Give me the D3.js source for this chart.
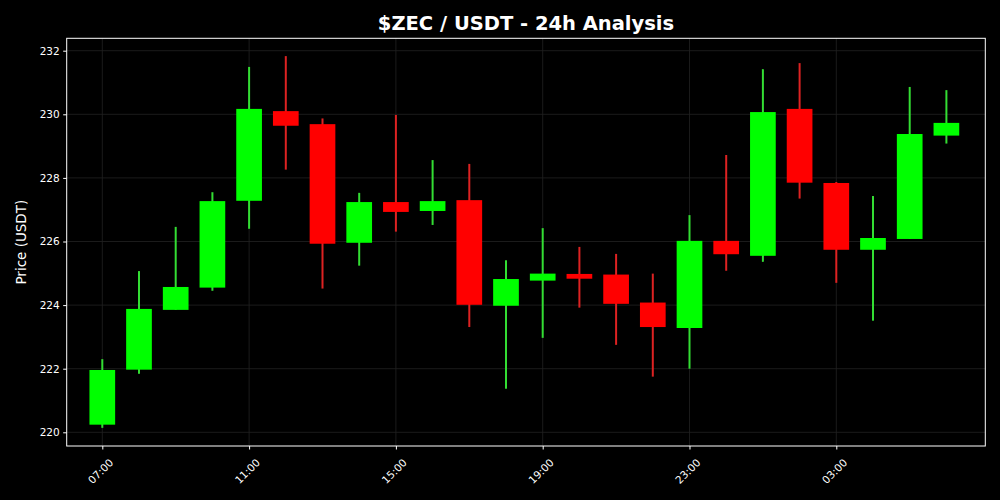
<!DOCTYPE html>
<html>
<head>
<meta charset="utf-8">
<script src="https://cdn.jsdelivr.net/npm/d3@7"></script>
<style>
  html, body { margin: 0; padding: 0; background: #000; }
  svg { display: block; }
</style>
</head>
<body>
<svg id="chart" width="1000" height="500"></svg>
<script>
// ---- Data (hourly candles, 07:00 -> 06:00) ----
const hours = ["07:00","08:00","09:00","10:00","11:00","12:00","13:00","14:00","15:00","16:00","17:00","18:00",
               "19:00","20:00","21:00","22:00","23:00","00:00","01:00","02:00","03:00","04:00","05:00","06:00"];
const opens  = [220.24,221.97,223.85,224.55,227.28,230.10,229.69,225.96,227.24,226.96,227.30,223.98,
                224.77,224.98,224.96,224.08,223.28,226.02,225.55,230.17,227.84,225.74,226.08,229.33];
const closes = [221.96,223.88,224.57,227.27,230.17,229.64,225.93,227.24,226.93,227.27,224.01,224.82,
                224.99,224.83,224.04,223.31,226.02,225.60,230.07,227.85,225.74,226.11,229.38,229.73];
const highs  = [222.30,225.07,226.46,227.55,231.49,231.83,229.87,227.53,229.98,228.56,228.44,225.41,
                226.42,225.83,225.61,224.99,226.83,228.72,231.42,231.61,227.87,227.43,230.86,230.76];
const lows   = [220.14,221.84,223.85,224.45,226.40,228.26,224.52,225.24,226.31,226.52,223.31,221.37,
                222.97,223.92,222.75,221.75,222.00,225.08,225.36,227.35,224.70,223.51,226.08,229.08];
const yTicks = [220,222,224,226,228,230,232];
const xTickLabels = ["07:00","11:00","15:00","19:00","23:00","03:00"];
const xTickIndex  = [0,4,8,12,16,20];

(function(){
const candles = hours.map((h,i)=>({i, h, o:opens[i], c:closes[i], hi:highs[i], lo:lows[i]}));

// ---- Layout ----
const svg = d3.select("#chart");
const L = 66.7, R = 985.3, T = 38.3, B = 446;

const x = d3.scaleLinear().domain([-0.97, 24.06]).range([L, R]);
const y = d3.scaleLinear().domain([220, 232]).range([432.3, 50.7]);

svg.append("rect").attr("width",1000).attr("height",500).attr("fill","#000");

// grid
const g = svg.append("g");
g.selectAll(".hg").data(yTicks).join("line")
  .attr("x1", L).attr("x2", R)
  .attr("y1", d=>y(d)).attr("y2", d=>y(d))
  .attr("stroke", "#222").attr("stroke-width", 0.8);
g.selectAll(".vg").data(xTickIndex).join("line")
  .attr("x1", d=>x(d)).attr("x2", d=>x(d))
  .attr("y1", T).attr("y2", B)
  .attr("stroke", "#222").attr("stroke-width", 0.8);

// candles
const bodyW = x(0.7) - x(0);
const up = d => d.c >= d.o;
svg.append("g").selectAll("line").data(candles).join("line")
  .attr("x1", d=>x(d.i)).attr("x2", d=>x(d.i))
  .attr("y1", d=>y(d.hi)).attr("y2", d=>y(d.lo))
  .attr("stroke", d=> up(d) ? "#33dd33" : "#dd2222")
  .attr("stroke-width", 2);
svg.append("g").selectAll("rect").data(candles).join("rect")
  .attr("x", d=>x(d.i) - bodyW/2)
  .attr("width", bodyW)
  .attr("y", d=>y(Math.max(d.o,d.c)))
  .attr("height", d=>Math.max(1, y(Math.min(d.o,d.c)) - y(Math.max(d.o,d.c))))
  .attr("fill", d=> up(d) ? "#00ff00" : "#ff0000");

// axes
const yAxis = d3.axisLeft(y).tickValues(yTicks).tickFormat(d3.format("d")).tickSize(3.5).tickPadding(3.5);
const ya = svg.append("g").attr("transform", `translate(${L},0)`).call(yAxis);
ya.select(".domain").remove();
ya.selectAll("line").attr("stroke","#fff");
ya.selectAll("text").attr("fill","#fff").style("font-family","DejaVu Sans").style("font-size","10.5px");

const xAxis = d3.axisBottom(x).tickValues(xTickIndex).tickFormat((d,k)=>xTickLabels[k]).tickSize(3.5).tickPadding(3);
const xa = svg.append("g").attr("transform", `translate(0,${B})`).call(xAxis);
xa.select(".domain").remove();
xa.selectAll("line").attr("stroke","#fff");
xa.selectAll("text").attr("fill","#fff").style("font-family","DejaVu Sans").style("font-size","10.5px")
  .attr("text-anchor","end").attr("dy","0.35em")
  .attr("transform","translate(4,10) rotate(-45)");

// frame
svg.append("rect").attr("x",L).attr("y",T).attr("width",R-L).attr("height",B-T)
  .attr("fill","none").attr("stroke","#fff").attr("stroke-width",1);

// labels
svg.append("text").attr("x",(L+R)/2).attr("y",30).attr("text-anchor","middle")
  .attr("fill","#fff").style("font-family","DejaVu Sans").style("font-weight","bold").style("font-size","19.5px")
  .text("$ZEC / USDT - 24h Analysis");
svg.append("text").attr("transform",`translate(26,${(T+B)/2}) rotate(-90)`).attr("text-anchor","middle")
  .attr("fill","#fff").style("font-family","DejaVu Sans").style("font-size","13.5px")
  .text("Price (USDT)");
})();
</script>
</body>
</html>
